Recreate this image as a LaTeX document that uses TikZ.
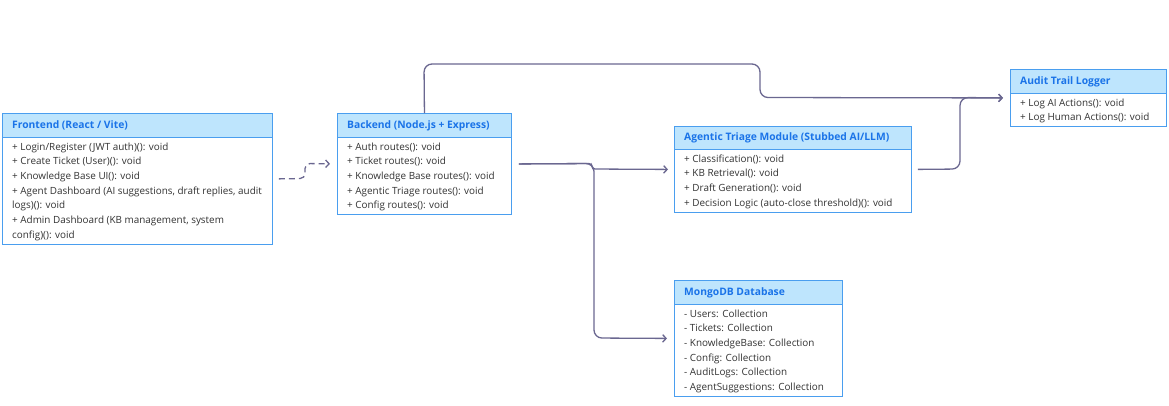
\documentclass[tikz,border=0pt]{standalone}
\usepackage{fontspec}
\setmainfont{Open Sans}
\usetikzlibrary{arrows.meta}
\definecolor{boxborder}{HTML}{4A9EEF}
\definecolor{hdrfill}{HTML}{BEE5FD}
\definecolor{hdrtext}{HTML}{1A73E8}
\definecolor{bodytext}{HTML}{333333}
\definecolor{conn}{HTML}{6A6790}
\tikzset{
  umlbox/.style={draw=boxborder, line width=0.9pt, fill=white, inner sep=0pt, anchor=north west},
  umlhdr/.style={draw=boxborder, line width=0.9pt, fill=hdrfill, inner sep=0pt, anchor=north west, minimum height=24pt},
  hdrlabel/.style={text=hdrtext, font=\fontsize{10.3}{12}\selectfont\bfseries, inner sep=0pt, anchor=west},
  bodylabel/.style={text=bodytext, font=\fontsize{9.9}{14.7}\selectfont, align=left, inner sep=0pt, anchor=north west},
  link/.style={draw=conn, line width=1.3pt, -{Straight Barb[length=3.5pt,width=7.5pt]}},
}
\begin{document}
\begin{tikzpicture}[x=1pt,y=-1pt]
\useasboundingbox (0,0) rectangle (1169,405);
% Frontend
\node[umlbox, minimum width=270pt, minimum height=131pt] (fe) at (2,113) {};
\node[umlhdr, minimum width=270pt] (feh) at (fe.north west) {};
\node[hdrlabel] (fet) at ([xshift=10pt]feh.west) {Frontend (React / Vite)};
\node[bodylabel] (feb) at ([xshift=10pt,yshift=-4.5pt]feh.south west) {+ Login/Register (JWT auth)(): void\\+ Create Ticket (User)(): void\\+ Knowledge Base UI(): void\\+ Agent Dashboard (AI suggestions, draft replies, audit\\logs)(): void\\+ Admin Dashboard (KB management, system\\config)(): void};
% Backend
\node[umlbox, minimum width=174pt, minimum height=101pt] (be) at (337,113) {};
\node[umlhdr, minimum width=174pt] (beh) at (be.north west) {};
\node[hdrlabel] (bet) at ([xshift=10pt]beh.west) {Backend (Node.js + Express)};
\node[bodylabel] (beb) at ([xshift=10pt,yshift=-4.5pt]beh.south west) {+ Auth routes(): void\\+ Ticket routes(): void\\+ Knowledge Base routes(): void\\+ Agentic Triage routes(): void\\+ Config routes(): void};
% Agentic
\node[umlbox, minimum width=237pt, minimum height=86pt] (ag) at (674,126) {};
\node[umlhdr, minimum width=237pt, minimum height=23pt] (agh) at (ag.north west) {};
\node[hdrlabel] (agt) at ([xshift=10pt]agh.west) {Agentic Triage Module (Stubbed AI/LLM)};
\node[bodylabel] (agb) at ([xshift=10pt,yshift=-4.5pt]agh.south west) {+ Classification(): void\\+ KB Retrieval(): void\\+ Draft Generation(): void\\+ Decision Logic (auto-close threshold)(): void};
% Audit
\node[umlbox, minimum width=156pt, minimum height=57pt] (au) at (1010,69) {};
\node[umlhdr, minimum width=156pt] (auh) at (au.north west) {};
\node[hdrlabel] (aut) at ([xshift=10pt]auh.west) {Audit Trail Logger};
\node[bodylabel] (aub) at ([xshift=10pt,yshift=-4.5pt]auh.south west) {+ Log AI Actions(): void\\+ Log Human Actions(): void};
% MongoDB
\node[umlbox, minimum width=168pt, minimum height=116pt] (mg) at (674,280) {};
\node[umlhdr, minimum width=168pt] (mgh) at (mg.north west) {};
\node[hdrlabel] (mgt) at ([xshift=10pt]mgh.west) {MongoDB Database};
\node[bodylabel] (mgb) at ([xshift=10pt,yshift=-4.5pt]mgh.south west) {- Users: Collection\\- Tickets: Collection\\- KnowledgeBase: Collection\\- Config: Collection\\- AuditLogs: Collection\\- AgentSuggestions: Collection};
% connectors
\draw[link, dash pattern=on 6pt off 4pt, rounded corners=5pt, shorten <=6pt, shorten >=7pt] (fe.east) -- (305,178.5) -- (305,163.5) -- (be.west);
\draw[link, rounded corners=8pt, shorten >=7pt] (be.north) -- (424,64) -- (760,64) -- (760,97.5) -- (au.west);
\draw[link, rounded corners=8pt, shorten <=6pt, shorten >=7pt] (ag.east) -- (960,169) -- (960,97.5) -- (au.west);
\draw[link, rounded corners=3pt, shorten <=7pt, shorten >=6pt] (be.east) -- (592,163.5) -- (592,169) -- (ag.west);
\draw[link, rounded corners=8pt, shorten <=7pt, shorten >=7pt] (be.east) -- (594,163.5) -- (594,338) -- (mg.west);
\end{tikzpicture}
\end{document}
